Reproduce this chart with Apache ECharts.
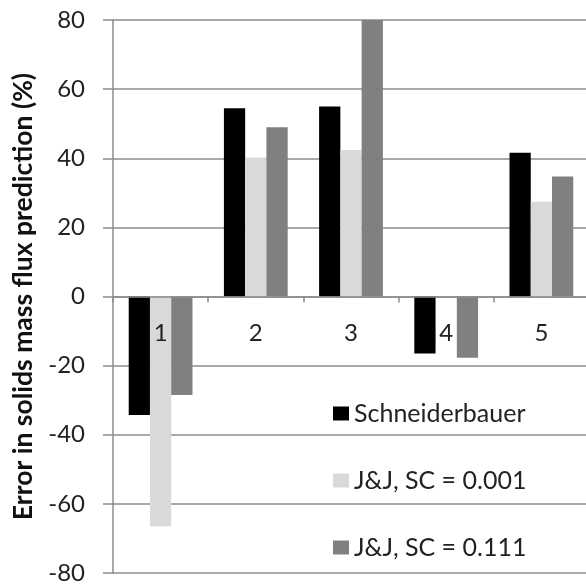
<!DOCTYPE html>
<html>
<head>
<meta charset="utf-8">
<script src="https://cdn.jsdelivr.net/npm/echarts@6/dist/echarts.min.js"></script>
<style>html,body{margin:0;padding:0;background:#fff;}#c{width:586px;height:585px;}</style>
</head>
<body>
<div id="c"></div>
<script>
const categories = ['1', '2', '3', '4', '5'];
const seriesNames = ['Schneiderbauer', 'J&J, SC = 0.001', 'J&J, SC = 0.111'];
const schneiderbauer = [-34.3, 54.5, 55.0, -16.5, 41.6];
const jj001 = [-66.5, 40.2, 42.4, 0, 27.4];
const jj111 = [-28.5, 49.0, 80.0, -17.7, 34.7];
const yTicks = { min: -80, max: 80, interval: 20 };

const FONT = 'Lato';
const GRID = '#8c8c8c';
const gridTop = 20, gridBottom = 12, H = 585;
const plotH = H - gridTop - gridBottom;
const chart = echarts.init(document.getElementById('c'), null, { renderer: 'canvas' });
const colors = ['#000000', '#d9d9d9', '#808080'];
const data = [schneiderbauer, jj001, jj111];
chart.setOption({
  animation: false,
  backgroundColor: '#ffffff',
  grid: { left: 113, right: -3, top: gridTop, bottom: gridBottom, containLabel: false, outerBoundsMode: 'none' },
  legend: {
    orient: 'vertical',
    left: 328, top: 396,
    itemWidth: 16, itemHeight: 14, itemGap: 42,
    icon: 'rect',
    textStyle: { fontFamily: FONT, fontSize: 25, color: '#222' },
    data: seriesNames
  },
  xAxis: {
    type: 'category',
    data: categories,
    z: 10,
    offset: -plotH * (0 - yTicks.min) / (yTicks.max - yTicks.min),
    axisLine: { show: true, onZero: false, lineStyle: { color: GRID, width: 1.5 } },
    axisTick: { show: true, alignWithLabel: false, length: 6, lineStyle: { color: GRID, width: 1.5 } },
    axisLabel: { fontFamily: FONT, fontSize: 24, color: '#222', margin: 25 },
    splitLine: { show: false }
  },
  yAxis: {
    type: 'value',
    min: yTicks.min, max: yTicks.max, interval: yTicks.interval,
    name: 'Error in solids mass flux prediction (%)',
    nameLocation: 'middle',
    nameGap: 76,
    nameTextStyle: { fontFamily: FONT, fontSize: 26.5, fontWeight: 'bold', color: '#111' },
    axisLine: { show: true, lineStyle: { color: GRID, width: 1.5 } },
    axisTick: { show: true, length: 10, lineStyle: { color: GRID, width: 1.5 } },
    axisLabel: { fontFamily: FONT, fontSize: 24, color: '#222', margin: 28 },
    splitLine: { show: true, lineStyle: { color: GRID, width: 1.5 } }
  },
  series: seriesNames.map((n, i) => ({
    name: n,
    type: 'bar',
    data: data[i],
    barGap: '0%',
    barCategoryGap: '33%',
    itemStyle: { color: colors[i] }
  }))
});
</script>
</body>
</html>
